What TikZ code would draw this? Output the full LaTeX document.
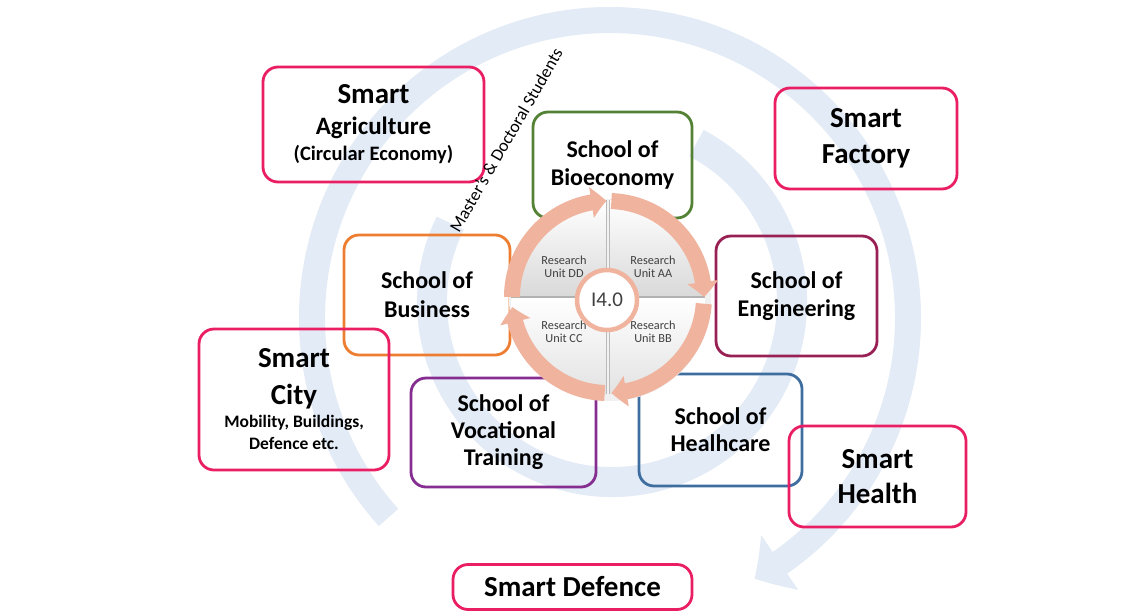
\documentclass[tikz,border=0pt]{standalone}
\usepackage{fontspec}
\setmainfont{Carlito}
\usetikzlibrary{arrows.meta,bending}
\definecolor{pinkc}{RGB}{233,30,99}
\definecolor{greenc}{RGB}{84,130,53}
\definecolor{orangec}{RGB}{237,125,49}
\definecolor{engc}{RGB}{152,32,84}
\definecolor{purplec}{RGB}{133,45,145}
\definecolor{bluec}{RGB}{62,110,160}
\definecolor{wmblue}{RGB}{227,235,246}
\definecolor{salmon}{RGB}{240,180,158}
\definecolor{txtgray}{RGB}{64,64,64}
\newcommand{\fsz}[2]{\fontsize{#1}{#2}\selectfont}
\begin{document}
\begin{tikzpicture}[x=1pt,y=1pt,
  box/.style={draw=#1, line width=2.8pt, rounded corners=15pt, align=center, inner sep=0pt, text=black},
  ringarrow/.style={draw=salmon, line width=16pt, line cap=butt, -{Triangle[length=15pt,width=30pt,bend]}},
  unitlabel/.style={align=center, text=txtgray, font=\fsz{12.3}{13}},
  wm/.style={draw=wmblue, line cap=butt}
]
\useasboundingbox (0,0) rectangle (1145,-611);
\fill[white] (0,0) rectangle (1145,-611);

% light blue background arcs
\coordinate (oc) at (610,-318);
\coordinate (ic) at (612,-302);
\draw[wm, line width=26pt, -{Triangle[length=30pt,width=64pt,bend]}] ([shift={(222:298)}]oc) arc (222:-61:298);
\draw[wm, line width=30pt] ([shift={(62:180)}]ic) arc (62:-206:180);

% boxes
\node[box=pinkc, minimum width=221pt, minimum height=115pt, font=\bfseries\fsz{25}{26}] (agri) at (373.5,-124.5)
  {{\fsz{29}{26}Smart}\\[5pt] Agriculture\\ {\fsz{20.5}{26}(Circular Economy)}};
\node[box=pinkc, minimum width=182pt, minimum height=101pt, font=\bfseries\fsz{29}{36}] (factory) at (866,-138.5)
  {Smart\\ Factory};
\node[box=greenc, minimum width=159pt, minimum height=106pt, font=\bfseries\fsz{24}{28}] (bio) at (612.5,-165)
  {School of\\ Bioeconomy};
\node[box=orangec, minimum width=166pt, minimum height=120pt, font=\bfseries\fsz{24}{29}] (business) at (427,-295)
  {School of\\ Business};
\node[box=engc, minimum width=161pt, minimum height=120pt, font=\bfseries\fsz{24}{27.5}] (eng) at (796.5,-296)
  {School of\\ Engineering};
\node[box=pinkc, minimum width=190pt, minimum height=141pt, font=\bfseries\fsz{17.5}{22}] (city) at (294,-399.5)
  {{\fsz{29}{22}Smart}\\[15pt] {\fsz{29}{22}City}\\[1pt] Mobility, Buildings,\\ Defence etc.};
\node[box=purplec, minimum width=185pt, minimum height=109pt, font=\bfseries\fsz{24}{27}] (voc) at (503.5,-432.5)
  {School of\\ Vocational\\ Training};
\node[box=bluec, minimum width=163pt, minimum height=112pt, font=\bfseries\fsz{24}{27}] (health) at (720.5,-430)
  {School of\\ Healhcare};
\node[box=pinkc, minimum width=177pt, minimum height=101pt, font=\bfseries\fsz{29}{35}] (shealth) at (877.5,-476.5)
  {Smart\\ Health};
\node[box=pinkc, minimum width=239pt, minimum height=45pt, font=\bfseries\fsz{29}{35}] (defence) at (572.5,-587)
  {Smart Defence};

% central disc
\coordinate (dc) at (608,-297);
\fill[gray!12] ([shift={(2,-3)}]dc) circle (101);
\shade[top color=white, bottom color=gray!30] ([shift={(180:97)}]dc) arc (180:0:97) -- cycle;
\shade[top color=white, bottom color=gray!22] ([shift={(0:97)}]dc) arc (0:-180:97) -- cycle;
\draw[gray!55, line width=4.5pt] ([yshift=97]dc) -- ([yshift=-97]dc);
\draw[white!90!gray, line width=2pt] ([yshift=97]dc) -- ([yshift=-97]dc);
\draw[gray!60, line width=2.5pt] ([xshift=-97]dc) -- ([xshift=97]dc);

\draw[ringarrow] ([shift={(180:96)}]dc) arc (180:91:96);
\draw[ringarrow] ([shift={(88:96)}]dc) arc (88:0:96);
\draw[ringarrow] ([shift={(-4:96)}]dc) arc (-4:-88:96);
\draw[ringarrow] ([shift={(268:96)}]dc) arc (268:186:96);

\node[unitlabel] (dd) at (564,-267) {Research\\Unit DD};
\node[unitlabel] (aa) at (653,-267) {Research\\Unit AA};
\node[unitlabel] (cc) at (564,-332) {Research\\Unit CC};
\node[unitlabel] (bb) at (653,-332) {Research\\Unit BB};

\node[circle, draw=salmon, line width=4.5pt, fill=white, minimum size=60pt, inner sep=0pt, text=txtgray, font=\fsz{21}{24}] (core) at (607,-300) {I4.0};

\node[rotate=60, font=\fsz{17.5}{20}, text=black, inner sep=0pt] (students) at (506,-140) {Master’s \& Doctoral Students};
\end{tikzpicture}
\end{document}
